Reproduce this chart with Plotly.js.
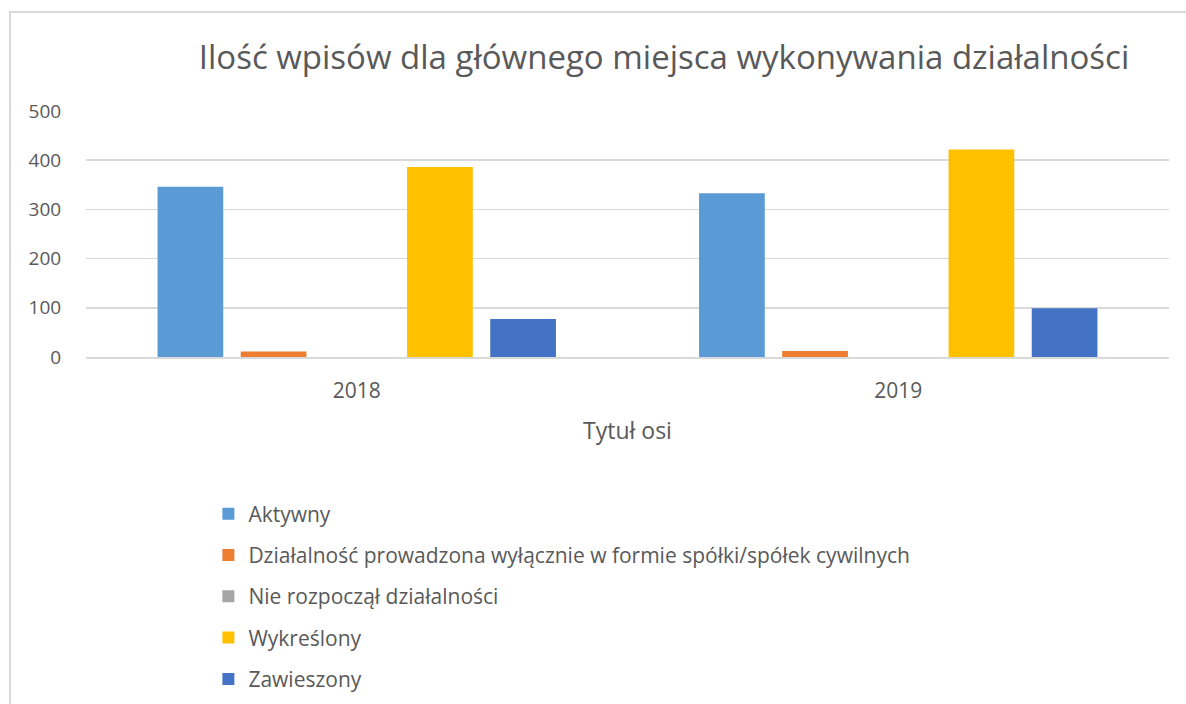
<!DOCTYPE html>
<html>
<head>
<meta charset="utf-8">
<script src="https://cdn.plot.ly/plotly-3.0.1.min.js"></script>
<style>
  html, body { margin: 0; padding: 0; background: #fff; }
  #chart { width: 1186px; height: 704px; }
  #frame { position: absolute; left: 9px; top: 11px; width: 1200px; height: 720px;
           border-left: 2px solid #d9d9d9; border-top: 2px solid #d9d9d9; pointer-events: none; }
</style>
</head>
<body>
<div id="chart"></div>
<div id="frame"></div>
<script>
const categories = ["2018", "2019"];
const seriesNames = [
  "Aktywny",
  "Działalność prowadzona wyłącznie w formie spółki/spółek cywilnych",
  "Nie rozpoczął działalności",
  "Wykreślony",
  "Zawieszony"
];
const aktywny = [346, 333];
const dzialalnoscSpolki = [11, 12];
const nieRozpoczal = [0, 0];
const wykreslony = [386, 422];
const zawieszony = [77, 99];
const colors = ["#5B9BD5", "#ED7D31", "#A5A5A5", "#FFC000", "#4472C4"];

const allValues = [aktywny, dzialalnoscSpolki, nieRozpoczal, wykreslony, zawieszony];
const FONT = "'Open Sans', Lato, sans-serif";

const traces = allValues.map((vals, i) => ({
  type: "bar",
  name: seriesNames[i],
  x: categories,
  y: vals,
  marker: { color: colors[i] },
  legendgroup: "g" + i,
  hoverinfo: "x+y+name"
}));

const layout = {
  width: 1186,
  height: 704,
  paper_bgcolor: "#ffffff",
  plot_bgcolor: "#ffffff",
  font: { family: FONT, color: "#595959", size: 18 },
  margin: { l: 86, r: 17, t: 111, b: 347, pad: 0, autoexpand: false },
  title: {
    text: "Ilość wpisów dla głównego miejsca wykonywania działalności",
    font: { family: FONT, size: 33, color: "#595959" },
    x: 664 / 1186, xanchor: "center", xref: "container",
    y: 1 - 57 / 704, yanchor: "middle", yref: "container"
  },
  bargap: 0.232,
  bargroupgap: 0.21,
  xaxis: {
    type: "category",
    showgrid: false,
    showline: true,
    linecolor: "#d9d9d9",
    linewidth: 1.5,
    ticks: "outside",
    ticklen: 14,
    tickcolor: "rgba(0,0,0,0)",
    tickfont: { family: FONT, size: 21, color: "#595959" },
    title: { text: "Tytuł osi", font: { family: FONT, size: 23, color: "#595959" }, standoff: 20 }
  },
  yaxis: {
    range: [0, 500],
    dtick: 100,
    showgrid: true,
    gridcolor: "#d9d9d9",
    gridwidth: 1.5,
    zeroline: false,
    showline: false,
    ticks: "outside",
    ticklen: 20,
    tickcolor: "rgba(0,0,0,0)",
    tickfont: { family: FONT, size: 19, color: "#595959" }
  },
  showlegend: true,
  legend: {
    orientation: "v",
    x: 0.113, xanchor: "left",
    y: -0.555, yanchor: "top",
    tracegroupgap: 11,
    font: { family: FONT, size: 21, color: "#595959" },
    bgcolor: "rgba(0,0,0,0)"
  }
};

Plotly.newPlot("chart", traces, layout, { displayModeBar: false, staticPlot: true });
</script>
</body>
</html>
